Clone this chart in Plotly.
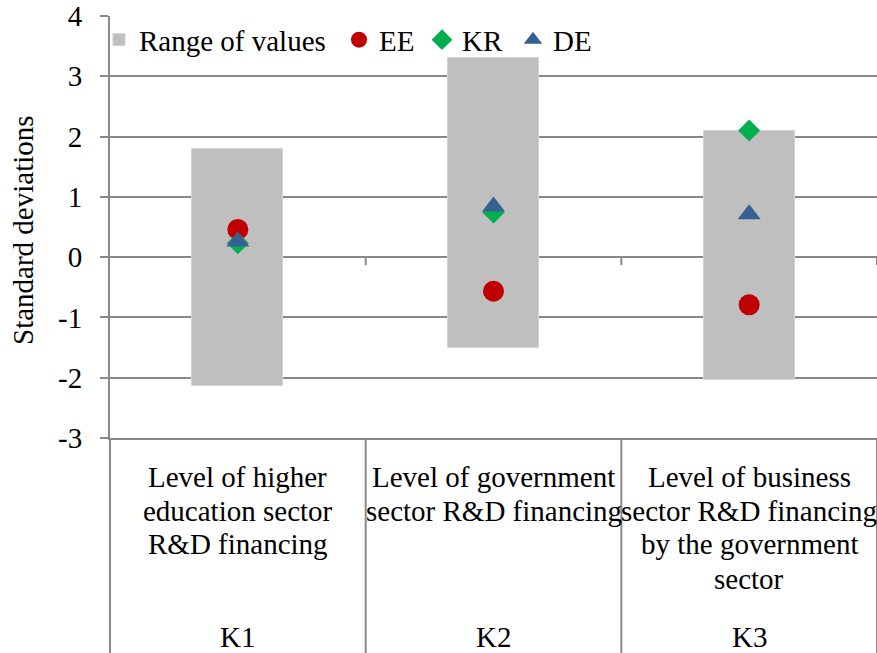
import plotly.graph_objects as go

# ---- data ----
categories = ["K1", "K2", "K3"]
category_lines = [
    ["Level of higher", "education sector", "R&D financing"],
    ["Level of government", "sector R&D financing"],
    ["Level of business", "sector R&D financing", "by the government", "sector"],
]
range_low = [-2.13, -1.50, -2.03]
range_high = [1.79, 3.30, 2.10]
ee_values = [0.46, -0.565, -0.79]
kr_values = [0.23, 0.74, 2.10]
de_values = [0.26, 0.84, 0.71]
y_ticks = [-3, -2, -1, 0, 1, 2, 3, 4]

FONT = "Liberation Serif"
FS = 29
GRID = "#898989"

W, H = 877, 653
ML, MR, MT, MB = 110, 0, 16, 215
PW = W - ML - MR
PH = H - MT - MB  # plot height in px
Y0, Y1 = -3, 4

def py_to_paper(py):
    return (H - MB - py) / PH

def px_to_paper(px):
    return (px - ML) / PW

x_idx = list(range(len(categories)))

fig = go.Figure()
fig.add_trace(go.Bar(
    x=x_idx, y=[h - l for h, l in zip(range_high, range_low)], base=range_low,
    width=0.356, name="Range of values", legend="legend",
    marker=dict(color="#BFBFBF", line=dict(color="#D2D2D2", width=1)),
))
fig.add_trace(go.Scatter(x=x_idx, y=ee_values, mode="markers", name="EE", legend="legend2",
                         marker=dict(symbol="circle", size=21, color="#C00000")))
fig.add_trace(go.Scatter(x=x_idx, y=kr_values, mode="markers", name="KR", legend="legend3",
                         marker=dict(symbol="diamond", size=17, color="#00B050")))
fig.add_trace(go.Scatter(x=x_idx, y=de_values, mode="markers", name="DE", legend="legend4",
                         marker=dict(symbol="triangle-up", size=20, color="#376092")))

shapes = []
n = len(categories)
zero_paper = (0 - Y0) / (Y1 - Y0)
# tick marks on zero line at category boundaries
for i in range(1, n + 1):
    shapes.append(dict(type="line", xref="paper", yref="paper",
                       x0=i / n, x1=i / n, y0=zero_paper, y1=zero_paper - 8 / PH,
                       line=dict(color=GRID, width=2)))
# vertical dividers in the category label area
for i in range(0, n + 1):
    shapes.append(dict(type="line", xref="paper", yref="paper",
                       x0=i / n, x1=i / n, y0=0, y1=py_to_paper(H + 2),
                       line=dict(color=GRID, width=2)))

annotations = []
line_centers = [477, 511, 544, 579]
for i, lines in enumerate(category_lines):
    for j, t in enumerate(lines):
        annotations.append(dict(text=t, x=i, xref="x", y=py_to_paper(line_centers[j]),
                                yref="paper", showarrow=False, xanchor="center",
                                yanchor="middle", font=dict(family=FONT, size=FS, color="black")))
    annotations.append(dict(text=categories[i], x=i, xref="x", y=py_to_paper(637),
                            yref="paper", showarrow=False, xanchor="center",
                            yanchor="middle", font=dict(family=FONT, size=FS, color="black")))
annotations.append(dict(text="Standard deviations", x=px_to_paper(23), xref="paper",
                        y=py_to_paper(230), yref="paper", showarrow=False, textangle=-90,
                        xanchor="center", yanchor="middle",
                        font=dict(family=FONT, size=FS, color="black")))

# legend entries: text start pixel positions as in the reference
legend_text_px = [137, 377, 460, 551]
legend_common = dict(orientation="h", xanchor="left", y=1.004, yanchor="top",
                     bgcolor="rgba(0,0,0,0)", font=dict(family=FONT, size=FS, color="black"),
                     itemwidth=30)
legends = {}
for k, tx in enumerate(legend_text_px):
    key = "legend" if k == 0 else f"legend{k + 1}"
    legends[key] = dict(legend_common, x=px_to_paper(tx - 42 + 4))

fig.update_layout(
    width=W, height=H,
    margin=dict(l=ML, r=MR, t=MT, b=MB, pad=0),
    paper_bgcolor="white", plot_bgcolor="white",
    font=dict(family=FONT, size=FS, color="black"),
    showlegend=True,
    xaxis=dict(range=[-0.5, n - 0.5], showgrid=False, zeroline=False, showticklabels=False,
               ticks="", showline=True, linecolor=GRID, linewidth=2, fixedrange=True),
    yaxis=dict(range=[Y0, Y1], tickvals=y_ticks, ticktext=[str(v) for v in y_ticks],
               showgrid=True, gridcolor=GRID, gridwidth=2, zeroline=False,
               showline=True, linecolor=GRID, linewidth=2,
               ticks="outside", ticklen=8, tickcolor=GRID, tickwidth=2,
               ticklabelstandoff=12,
               tickfont=dict(family=FONT, size=FS, color="black")),
    shapes=shapes, annotations=annotations,
    bargap=0,
    **legends,
)

fig.write_html("out.html", config={"displayModeBar": False},
               post_script="document.body.style.margin='0';")
